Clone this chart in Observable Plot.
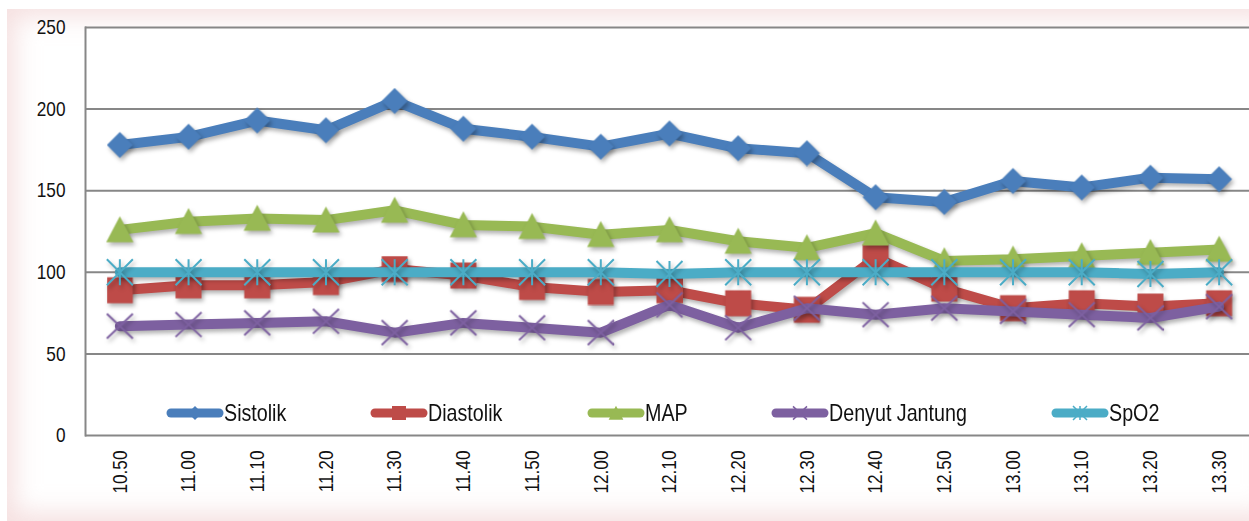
<!DOCTYPE html>
<html><head><meta charset="utf-8">
<script src="https://cdn.jsdelivr.net/npm/d3@7"></script>
<script src="https://cdn.jsdelivr.net/npm/@observablehq/plot@0.6"></script>
<style>
body{margin:0;background:#fff;}
#wrap{position:relative;width:1249px;height:521px;overflow:hidden;font-family:"Liberation Sans",Arial,sans-serif;}
#bg{position:absolute;left:7px;top:9px;width:1270px;height:512px;background:#fff;box-shadow:inset 0 0 24px 8px rgba(236,198,198,0.55);}
#chart{position:absolute;left:0;top:0;}
#chart g[aria-label="line"], #chart g[aria-label="dot"]{filter:drop-shadow(2px 3px 2px rgba(0,0,0,0.3));}
#legend{position:absolute;left:166px;top:399px;display:flex;gap:84px;align-items:center;font-size:24px;color:#111;line-height:28px;white-space:nowrap;}
.item{display:flex;align-items:center;}
.item svg{display:block;}
.item span{display:inline-block;transform:scaleX(0.82);transform-origin:0 50%;}
</style>
</head><body>
<div id="wrap"><div id="bg"></div><div id="chart"></div><div id="legend"></div></div>
<script>
const times = ["10.50","11.00","11.10","11.20","11.30","11.40","11.50","12.00","12.10","12.20","12.30","12.40","12.50","13.00","13.10","13.20","13.30"];
const sistolik = [178,183,193,187,205,188,183,177,185,176,173,146,143,156,152,158,157];
const diastolik = [89,92,92,94,102,98,91,88,89,81,77,109,90,78,81,79,81];
const mapValues = [126,131,133,132,138,129,128,123,126,119,115,124,107,108,110,112,114];
const denyut = [67,68,69,70,63,69,66,63,80,66,78,74,78,76,74,72,79];
const spo2 = [100,100,100,100,100,100,100,100,99,100,100,100,100,100,100,99,100];
const seriesNames = ["Sistolik","Diastolik","MAP","Denyut Jantung","SpO2"];
const seriesValues = [sistolik, diastolik, mapValues, denyut, spo2];
const yTicks = [0,50,100,150,200,250];

// styles
const seriesColors = ["#4A7EBB","#BE4B48","#98B954","#7D60A0","#4BACC6"];
const seriesShapes = ["diamond","square","triangle","times","star"];
const condense = 0.82;

const shapes = {
  diamond(c, r){ c.moveTo(0,-r); c.lineTo(r,0); c.lineTo(0,r); c.lineTo(-r,0); c.closePath(); },
  square(c, r){ c.moveTo(-r,-r); c.lineTo(r,-r); c.lineTo(r,r); c.lineTo(-r,r); c.closePath(); },
  triangle(c, r){ c.moveTo(0,-r*1.05); c.lineTo(r*1.05,r*0.95); c.lineTo(-r*1.05,r*0.95); c.closePath(); },
  times(c, r){ c.moveTo(-r,-r*0.95); c.lineTo(r,r*0.95); c.moveTo(r,-r*0.95); c.lineTo(-r,r*0.95); },
  star(c, r){ c.moveTo(-r,-r); c.lineTo(r,r); c.moveTo(r,-r); c.lineTo(-r,r); c.moveTo(0,-r); c.lineTo(0,r); }
};
const isStroked = s => s === "times" || s === "star";
const symbolOf = s => ({draw(ctx, size){ shapes[s](ctx, Math.sqrt(size/Math.PI)); }});

const rows = seriesNames.flatMap((s,k) => times.map((t,i) => ({series:s, time:t, value:seriesValues[k][i]})));

const marks = [
  Plot.frame({fill:"white", stroke:null}),
  Plot.gridY(yTicks, {stroke:"#878787", strokeOpacity:1, strokeWidth:2}),
  Plot.frame({anchor:"left", stroke:"#878787", strokeWidth:2}),
  Plot.axisY(yTicks, {tickSize:0, tickPadding:20, fontSize:21}),
  Plot.axisX({tickSize:0, tickRotate:-90, tickPadding:15, fontSize:21})
];
seriesNames.forEach((s,k) => {
  const d = rows.filter(r => r.series === s);
  const shp = seriesShapes[k];
  marks.push(Plot.line(d, {x:"time", y:"value", stroke:seriesColors[k], strokeWidth:10, strokeLinejoin:"round", strokeLinecap:"round"}));
  marks.push(Plot.dot(d, isStroked(shp)
    ? {x:"time", y:"value", symbol:symbolOf(shp), r:13, fill:"none", stroke:seriesColors[k], strokeWidth:2}
    : {x:"time", y:"value", symbol:symbolOf(shp), r:13, fill:seriesColors[k], stroke:"none"}));
});

const chart = Plot.plot({
  width:1249, height:521,
  marginLeft:85, marginRight:0, marginTop:27, marginBottom:86,
  style:{background:"transparent", color:"#111", fontFamily:'"Liberation Sans",Arial,sans-serif'},
  x:{type:"point", domain:times, range:[85,1253], round:false, label:null},
  y:{domain:[0,250], label:null},
  marks
});
document.getElementById("chart").appendChild(chart);

// condense axis tick labels (narrow face not installed)
chart.querySelectorAll('g[aria-label="x-axis tick label"] text, g[aria-label="y-axis tick label"] text').forEach(t => {
  let tr = t.getAttribute("transform");
  if (!tr) {
    const x = t.getAttribute("x") || 0, y = t.getAttribute("y") || 0;
    t.removeAttribute("x"); t.removeAttribute("y");
    tr = `translate(${x},${y})`;
  }
  t.setAttribute("transform", tr + ` scale(${condense},1)`);
});

// legend
const legend = document.getElementById("legend");
seriesNames.forEach((s,k) => {
  const item = document.createElement("div");
  item.className = "item";
  const shp = seriesShapes[k];
  const p = d3.path();
  shapes[shp](p, 7);
  const svg = d3.create("svg").attr("width",58).attr("height",26);
  svg.append("line").attr("x1",5).attr("x2",53).attr("y1",13).attr("y2",13)
    .attr("stroke",seriesColors[k]).attr("stroke-width",9).attr("stroke-linecap","round");
  svg.append("path").attr("transform","translate(29,13)").attr("d",p.toString())
    .attr("fill", isStroked(shp) ? "none" : seriesColors[k])
    .attr("stroke", isStroked(shp) ? seriesColors[k] : "none").attr("stroke-width",1.5);
  item.appendChild(svg.node());
  const span = document.createElement("span");
  span.textContent = s;
  item.appendChild(span);
  legend.appendChild(item);
  span.style.marginRight = (-(1 - condense) * span.offsetWidth) + "px";
});
</script>
</body></html>
